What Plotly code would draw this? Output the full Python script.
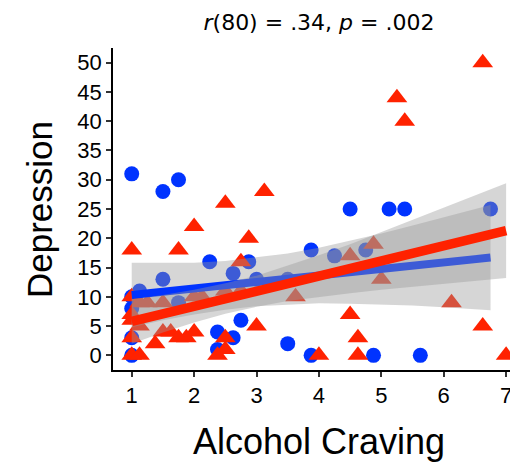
import plotly.graph_objects as go

# ---- data ----
blue_x = [1, 1.5, 1.75, 2.25, 2.875, 2.625, 1.5, 1.125, 1, 1, 1.75, 3, 3.5, 1, 1,
          2.375, 2.75, 2.625, 2.375, 3.5, 3.875, 3.875, 4.25, 4.75, 4.5, 5.125,
          5.375, 6.75, 4.875, 5.625]
blue_y = [31, 28, 30, 16, 16, 14, 13, 11, 10, 8, 9, 13, 13, 3, 0,
          4, 6, 3, 1, 2, 0, 18, 17, 18, 25, 25,
          25, 25, 0, 0]

red_x = [1, 1, 1, 1, 1, 1, 1.125, 1.125, 1.25, 1.5, 1.375, 1.5, 1.625, 1.75, 1.875,
         2, 1.75, 2, 2, 2.125, 2.375, 2.5, 2.5, 2.5, 2.75, 2.875, 3, 3.125, 3.625,
         4, 4.5, 4.5, 4.625, 4.625, 4.875, 5, 5.25, 5.375, 6.125, 6.625, 6.625, 7,
         1.125, 2.5, 2.75]
red_y = [18, 10, 7, 6, 3, 0, 0, 9, 9, 9, 2, 4, 4, 3, 3,
         4, 18, 22, 10, 10, 0, 1, 3, 26, 16, 20, 5, 28, 10,
         0, 17, 7, 3, 0, 19, 13, 44, 40, 9, 5, 50, 0,
         5, 11, 11]

# fitted lines and 95% bands
blue_fx = [1, 1.5, 2, 2.5, 3, 3.5, 4, 4.5, 5, 5.5, 6, 6.5, 6.75]
blue_fit = [10.3, 10.86, 11.41, 11.97, 12.53, 13.08, 13.64, 14.2, 14.75, 15.31, 15.87, 16.42, 16.7]
blue_hi = [15.8, 15.8, 15.8, 16.1, 16.7, 17.4, 18.4, 19.6, 20.8, 22.2, 23.6, 25.0, 25.7]
blue_lo = [4.8, 6.0, 7.0, 7.8, 8.4, 8.7, 8.9, 8.8, 8.7, 8.5, 8.2, 7.9, 7.7]

red_fx = [1, 1.5, 2, 2.5, 3, 3.5, 4, 4.5, 5, 5.5, 6, 6.5, 7]
red_fit = [5.8, 7.09, 8.38, 9.67, 10.97, 12.26, 13.55, 14.84, 16.13, 17.42, 18.72, 20.01, 21.3]
red_hi = [9.6, 10.3, 11.2, 12.3, 13.6, 15.3, 17.1, 19.0, 21.1, 23.1, 25.2, 27.3, 29.4]
red_lo = [2.0, 3.9, 5.6, 7.1, 8.3, 9.3, 10.0, 10.6, 11.2, 11.7, 12.3, 12.7, 13.2]

x_ticks = [1, 2, 3, 4, 5, 6, 7]
y_ticks = [0, 5, 10, 15, 20, 25, 30, 35, 40, 45, 50]

BLUE = "#0033ff"
RED = "#ff2200"
BAND = "rgba(153,153,153,0.4)"

fig = go.Figure()
fig.add_trace(go.Scatter(x=blue_x, y=blue_y, mode="markers",
                         marker=dict(symbol="circle", size=15, color=BLUE), showlegend=False))
fig.add_trace(go.Scatter(x=red_x, y=red_y, mode="markers",
                         marker=dict(symbol="triangle-up", size=18, color=RED), showlegend=False))
fig.add_trace(go.Scatter(x=blue_fx + blue_fx[::-1], y=blue_hi + blue_lo[::-1], mode="lines",
                         fill="toself", fillcolor=BAND, line=dict(width=0), showlegend=False))
fig.add_trace(go.Scatter(x=blue_fx, y=blue_fit, mode="lines",
                         line=dict(color=BLUE, width=8), showlegend=False))
fig.add_trace(go.Scatter(x=red_fx + red_fx[::-1], y=red_hi + red_lo[::-1], mode="lines",
                         fill="toself", fillcolor=BAND, line=dict(width=0), showlegend=False))
fig.add_trace(go.Scatter(x=red_fx, y=red_fit, mode="lines",
                         line=dict(color=RED, width=9.5), showlegend=False))

# page has an 8px body margin, so the figure is laid out 8px up/left of the target pixels
W, H = 510, 454
L, T, B = 105, 40, 92
fig.update_layout(
    width=W, height=H,
    margin=dict(l=L, r=0, t=T, b=B),
    paper_bgcolor="white", plot_bgcolor="white",
    font=dict(family="Liberation Sans, Arial, sans-serif", color="black"),
    title=dict(text="<i>r</i>(80) = .34, <i>p</i> = .002",
               font=dict(family="DejaVu Sans", size=22, color="black"),
               x=311 / W, xanchor="center", y=1 - 14 / H, yanchor="middle"),
    xaxis=dict(range=[0.7, 0.7 + 405 / 62.4], tickvals=x_ticks, ticks="outside", ticklen=5,
               tickcolor="#333333", tickwidth=1.5, showline=True, linecolor="black", linewidth=1.5,
               showgrid=False, zeroline=False, tickfont=dict(size=22, color="black")),
    yaxis=dict(range=[-2.5, 52.5], tickvals=y_ticks, ticks="outside", ticklen=5,
               tickcolor="#333333", tickwidth=1.5, showline=True, linecolor="black", linewidth=1.5,
               showgrid=False, zeroline=False, tickfont=dict(size=22, color="black")),
    annotations=[
        dict(text="Alcohol Craving", xref="paper", yref="paper", x=(319 - 113) / 405,
             y=(370 - 441) / 322, xanchor="center", yanchor="middle", showarrow=False,
             font=dict(size=36, color="black")),
        dict(text="Depression", xref="paper", yref="paper", x=(40 - 113) / 405,
             y=(370 - 210) / 322, xanchor="center", yanchor="middle", showarrow=False,
             textangle=-90, font=dict(size=35, color="black")),
    ],
)

fig.write_html("out.html")
